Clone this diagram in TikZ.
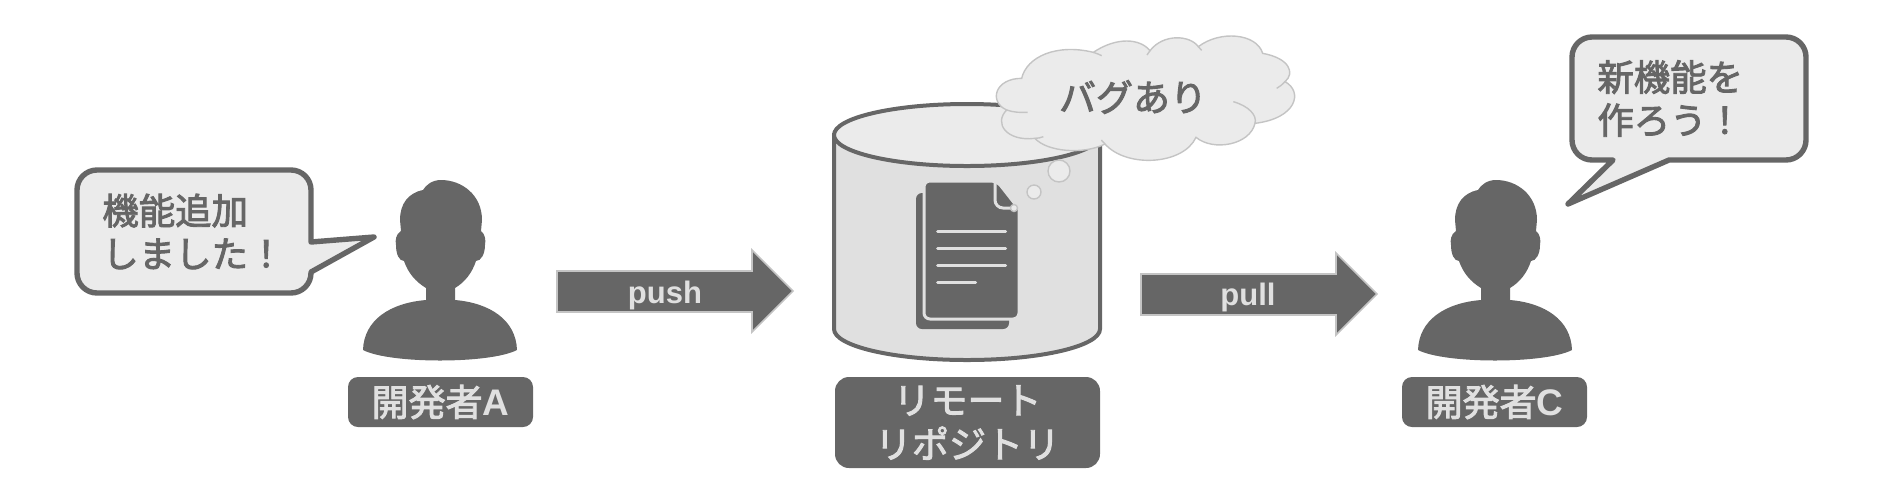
\documentclass[tikz,border=0pt]{standalone}
\usepackage{fontspec}
\setmainfont{Liberation Sans}
\newfontfamily\jpfont[FakeBold=2.5]{Noto Sans CJK JP}
\newcommand\cjk{\jpfont\mdseries}
\usepackage{tikz}
\usetikzlibrary{positioning}
\definecolor{ink}{HTML}{666666}
\definecolor{pale}{HTML}{EBEBEB}
\definecolor{side}{HTML}{E0E0E0}
\definecolor{rim}{HTML}{C4C4C4}

\begin{document}
\begin{tikzpicture}
 [ x=0.5pt
 , y=-0.5pt
 , bubble/.style={draw=ink, fill=pale, line width=2.7pt, line join=round}
 , saying/.style={inner sep=0pt, text=ink, align=left, anchor=west, font=\fontsize{18.2}{21.5}\selectfont\bfseries}
 , tag/.style={fill=ink, text=side, rounded corners=5pt, inner sep=0pt, align=center, font=\fontsize{18.5}{22}\selectfont\bfseries}
 , flow/.style={fill=ink, draw=rim, line width=0.8pt}
 , flow label/.style={inner sep=0pt, text=side, font=\fontsize{15.5}{18}\selectfont\bfseries}
 , drum/.style={draw=ink, line width=2pt}
 , sheet line/.style={draw=side, line width=1.5pt, line cap=round}
 , puff/.style={fill=pale, draw=rim, line width=0.7pt}
 , person/.pic={
     \fill[ink] (1,0) .. controls (-8,0) and (-14,5) .. (-17,10)
       .. controls (-32,13) and (-40,24) .. (-40,40) -- (-39,51)
       .. controls (-44,54) and (-45,60) .. (-44,65)
       .. controls (-44,74) and (-41,81) .. (-36,81)
       .. controls (-32,93) and (-24,102) .. (-14,108) -- (-14,120)
       .. controls (-50,123) and (-76,140) .. (-77,170)
       .. controls (-50,184) and (50,184) .. (77,170)
       .. controls (76,140) and (50,123) .. (15,120) -- (15,108)
       .. controls (25,102) and (32,93) .. (36,81)
       .. controls (41,81) and (45,74) .. (45,65)
       .. controls (46,60) and (45,54) .. (41,51) -- (42,40)
       .. controls (42,15) and (22,0) .. (1,0) -- cycle;
   }
 ]
  \useasboundingbox (0,0) rectangle (1885,500);

  % developers
  \pic (devA) at (440,180) {person};
  \pic (devC) at (1495,180) {person};
  \node [tag, minimum width=92.5pt, minimum height=25pt] (tagA) at (440.5,402) {\raisebox{-0.5pt}{{\cjk 開発者}A}};
  \node [tag, minimum width=92.5pt, minimum height=25pt] (tagC) at (1494.5,402) {\raisebox{-0.5pt}{{\cjk 開発者}C}};

  % what they say
  \draw [bubble] (311,242) -- (374,237) -- (311,272) [rounded corners=10pt] -- (311,293)
    -- (77,293) -- (77,170) -- (311,170) [sharp corners] -- cycle;
  \node [saying] (sayA) at (102,231.5) {\cjk 機能追加\\\cjk しました！};
  \draw [bubble] (1613,160) -- (1568,204) -- (1669,160) [rounded corners=10pt] -- (1806,160)
    -- (1806,37) -- (1572,37) -- (1572,160) [sharp corners] -- cycle;
  \node [saying] (sayC) at (1597,98.5) {\cjk 新機能を\\\cjk 作ろう！};

  % arrows
  \draw [flow] (557,271) -- (752,271) -- (752,250) -- (793,291) -- (752,332) -- (752,312) -- (557,312) -- cycle;
  \node [flow label] (push) at (665,295) {push};
  \draw [flow] (1141,274) -- (1336,274) -- (1336,253) -- (1377,294) -- (1336,335) -- (1336,315) -- (1141,315) -- cycle;
  \node [flow label] (pull) at (1248,297) {pull};

  % repository
  \draw [drum, fill=side] (834,329) .. controls (834,346) and (893,360) .. (967,360)
    .. controls (1041,360) and (1100,346) .. (1100,329) -- (1100,135) -- (834,135) -- cycle;
  \draw [drum, fill=pale] (967,135) ellipse [x radius=133, y radius=31];
  \node [tag, minimum width=132.5pt, minimum height=45.5pt, rounded corners=7pt] (tagR) at (967.5,422.5) {\cjk リモート\\\cjk リポジトリ};

  % documents
  \fill [ink, rounded corners=3pt] (916,193) -- (1009,193) -- (1009,329) -- (916,329) -- cycle;
  \draw [fill=ink, draw=side, line width=1.5pt, rounded corners=3pt] (924,181) -- (997,181) [sharp corners] -- (1019,209) [rounded corners=3pt] -- (1019,319) -- (924,319) -- cycle;
  \draw [draw=side, line width=1.5pt, rounded corners=4pt] (995,182) -- (995,208) -- (1014,208);
  \foreach \ypos/\xend in {231/1005.5, 248/1005.5, 265/1005.5, 282/975.5}
    \draw [sheet line] (937.5,\ypos) -- (\xend,\ypos);

  % thought
  \draw [puff] (1014,208) circle [radius=3.5];
  \draw [puff] (1034,192) circle [radius=7];
  \draw [puff] (1059,171) circle [radius=11];
  \begin{scope}[shift={(800,20)}, xscale=1/3, yscale=1/3]
    \draw [puff] (665,175) .. controls (680,110) and (770,70) .. (880,97)
      .. controls (950,50) and (1020,55) .. (1050,92)
      .. controls (1090,40) and (1170,45) .. (1195,80)
      .. controls (1260,30) and (1370,40) .. (1388,100)
      .. controls (1470,115) and (1485,160) .. (1455,185)
      .. controls (1510,215) and (1490,295) .. (1365,310)
      .. controls (1350,375) and (1240,395) .. (1188,352)
      .. controls (1150,435) and (980,445) .. (915,372)
      .. controls (850,405) and (740,395) .. (705,355)
      .. controls (620,365) and (580,310) .. (620,270)
      .. controls (565,245) and (585,175) .. (665,175) -- cycle;
    \draw [puff, fill=none] (620,270) .. controls (640,277) and (660,278) .. (683,277);
    \draw [puff, fill=none] (705,355) .. controls (715,355) and (722,353) .. (730,350);
    \draw [puff, fill=none] (880,97) .. controls (890,100) and (897,103) .. (905,107);
    \draw [puff, fill=none] (1050,92) .. controls (1047,97) and (1044,100) .. (1041,105);
    \draw [puff, fill=none] (1195,80) .. controls (1199,84) and (1202,87) .. (1205,91);
    \draw [puff, fill=none] (1455,185) .. controls (1447,193) and (1440,200) .. (1430,205);
    \draw [puff, fill=none] (1365,310) .. controls (1372,285) and (1345,258) .. (1300,245);
    \draw [puff, fill=none] (915,372) .. controls (911,368) and (907,364) .. (904,360);
  \end{scope}
  \node [inner sep=0pt, text=ink, font=\fontsize{18.5}{21}\selectfont\bfseries] (bug) at (1133,97) {\cjk バグあり};
\end{tikzpicture}
\end{document}
